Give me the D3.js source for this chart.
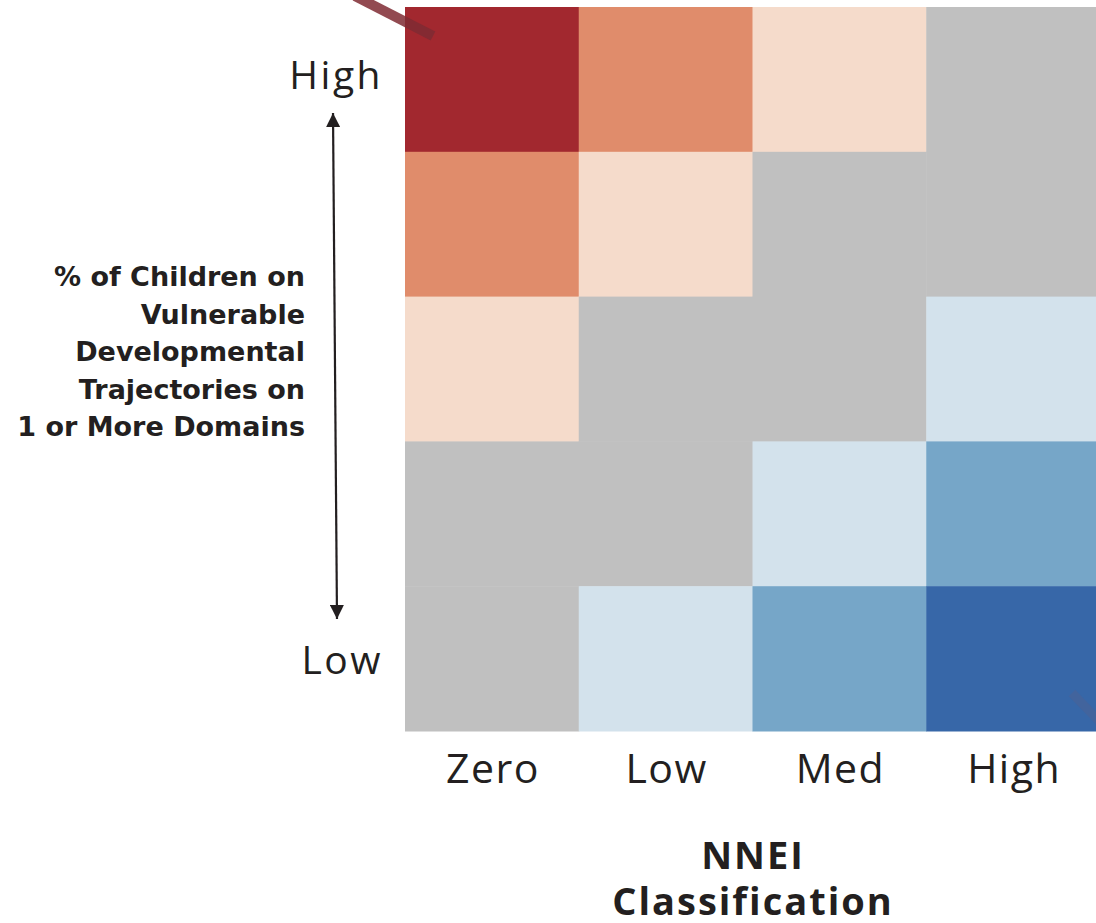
<!DOCTYPE html>
<html>
<head>
<meta charset="utf-8">
<script src="https://cdn.jsdelivr.net/npm/d3@7"></script>
<style>
html,body{margin:0;padding:0;background:#fff;}
svg{display:block;}
</style>
</head>
<body>
<svg id="chart" width="1096" height="923"></svg>
<script>
// ---- data ----
const nneiCategories = ["Zero", "Low", "Med", "High"];
const vulnerabilityLevels = ["High", "2", "3", "4", "Low"]; // top to bottom
const yTickLabels = ["High", "", "", "", "Low"];
// diverging class per cell (row = vulnerability level, top to bottom; col = NNEI)
const row1 = [3, 2, 1, 0];
const row2 = [2, 1, 0, 0];
const row3 = [1, 0, 0, -1];
const row4 = [0, 0, -1, -2];
const row5 = [0, -1, -2, -3];
const classValues = [3, 2, 1, 0, -1, -2, -3];
const classColors = ["#a2282f", "#e08c6b", "#f5dbcb", "#c0c0c0", "#d3e2ec", "#76a6c8", "#3767a8"];
const yTitleLines = ["% of Children on", "Vulnerable", "Developmental", "Trajectories on", "1 or More Domains"];
const xTitleLines = ["NNEI", "Classification"];

const rows = [row1, row2, row3, row4, row5];
const cells = [];
rows.forEach((r, i) => r.forEach((v, j) => cells.push({row: vulnerabilityLevels[i], col: nneiCategories[j], v})));

const svg = d3.select("#chart");
const gx0 = 405, gx1 = 1100, gy0 = 7, gy1 = 731;

const x = d3.scaleBand().domain(nneiCategories).range([gx0, gx1]).padding(0);
const y = d3.scaleBand().domain(vulnerabilityLevels).range([gy0, gy1]).padding(0);
const color = d3.scaleOrdinal().domain(classValues).range(classColors);

// cells
svg.append("g").selectAll("rect").data(cells).join("rect")
  .attr("x", d => x(d.col))
  .attr("y", d => y(d.row))
  .attr("width", x.bandwidth() + 0.5)
  .attr("height", y.bandwidth() + 0.5)
  .attr("fill", d => color(d.v));

const lightFont = "'Open Sans', 'DejaVu Sans', sans-serif";
const boldFont = "'DejaVu Sans', 'Open Sans', sans-serif";

// x axis labels
const xAxis = d3.axisBottom(x).tickSize(0).tickPadding(0);
const xg = svg.append("g").attr("transform", `translate(0, ${gy1})`).call(xAxis);
xg.select(".domain").remove();
xg.selectAll("text")
  .attr("y", 52)
  .attr("dx", 1)
  .attr("dy", 0)
  .attr("fill", "#231f20")
  .style("font-family", lightFont)
  .style("font-weight", 400)
  .style("letter-spacing", "1.5px")
  .style("font-size", "41px");

// y axis labels
const yAxis = d3.axisLeft(y).tickSize(0).tickPadding(0).tickFormat((d, i) => yTickLabels[i]);
const yg = svg.append("g").attr("transform", `translate(383, 0)`).call(yAxis);
yg.select(".domain").remove();
yg.selectAll("text")
  .attr("x", 0)
  .attr("dy", "0.35em")
  .attr("fill", "#231f20")
  .style("font-family", lightFont)
  .style("font-weight", 400)
  .style("letter-spacing", "2.5px")
  .style("font-size", "39px");
yg.selectAll(".tick").attr("transform", (d) => {
  if (d === "High") return `translate(0, ${y(d) + 68})`;
  if (d === "Low") return `translate(0, ${y(d) + 74})`;
  return `translate(0, ${y(d) + y.bandwidth() / 2})`;
});

// y title
const yt = svg.append("text")
  .attr("text-anchor", "end")
  .attr("fill", "#231f20")
  .style("font-family", boldFont)
  .style("font-weight", 700)
  .style("font-size", "27px");
yTitleLines.forEach((t, i) => {
  yt.append("tspan").attr("x", 305).attr("y", 286 + i * 37.5).text(t);
});

// x title
const xt = svg.append("text")
  .attr("text-anchor", "middle")
  .attr("fill", "#231f20")
  .style("font-family", "'Open Sans', sans-serif")
  .style("font-weight", 700)
  .style("letter-spacing", "2px")
  .style("font-size", "38px");
xTitleLines.forEach((t, i) => {
  xt.append("tspan").attr("x", 753).attr("y", 869 + i * 46).text(t);
});

// double-headed arrow
const defs = svg.append("defs");
defs.append("marker").attr("id", "ah").attr("viewBox", "0 0 10 10")
  .attr("refX", 10).attr("refY", 5).attr("markerWidth", 18).attr("markerHeight", 14)
  .attr("markerUnits", "userSpaceOnUse").attr("orient", "auto-start-reverse")
  .append("path").attr("d", "M0,0 L10,5 L0,10 Z").attr("fill", "#231f20");
svg.append("line")
  .attr("x1", 333).attr("y1", 113).attr("x2", 337).attr("y2", 619)
  .attr("stroke", "#231f20").attr("stroke-width", 2.2)
  .attr("marker-start", "url(#ah)").attr("marker-end", "url(#ah)");

// decorative pointer lines
svg.append("line")
  .attr("x1", 355).attr("y1", -4).attr("x2", 433).attr("y2", 36)
  .attr("stroke", "#7f2a33").attr("stroke-opacity", 0.85).attr("stroke-width", 10);
svg.append("line")
  .attr("x1", 1072).attr("y1", 693).attr("x2", 1100).attr("y2", 722)
  .attr("stroke", "#5a5f8a").attr("stroke-opacity", 0.35).attr("stroke-width", 9);
</script>
</body>
</html>
